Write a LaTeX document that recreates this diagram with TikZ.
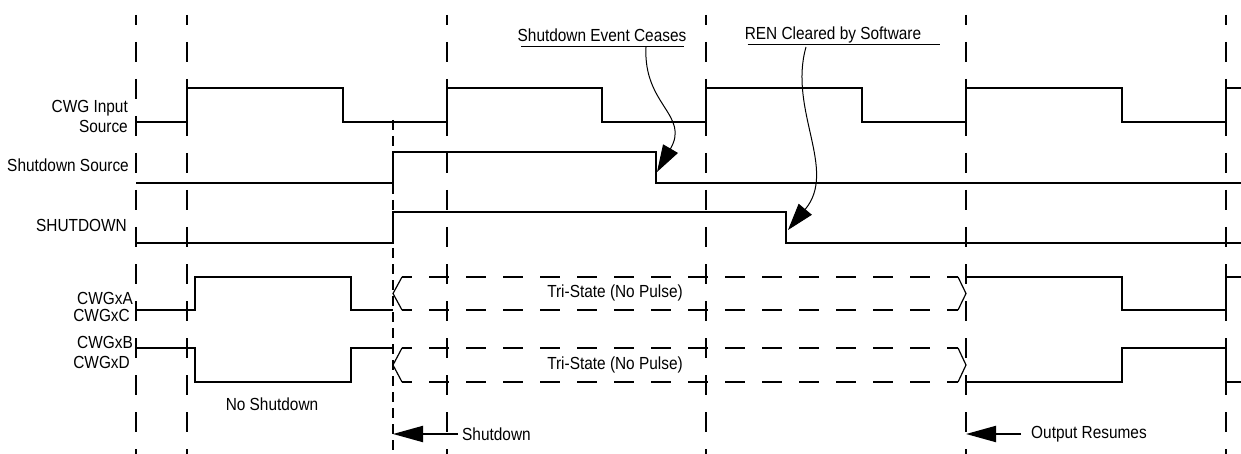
\documentclass[tikz,border=0pt]{standalone}
\usepackage{fontspec}
\usepackage{tikz}
\usetikzlibrary{arrows.meta,positioning,calc}
\newfontfamily\sigfont{Liberation Sans}[FakeStretch=0.88]
\definecolor{inkCol}{RGB}{0,0,0}
\tikzset{
  wave/.style={draw=inkCol,line width=2pt,line join=miter},
  gridline/.style={draw=inkCol,line width=2pt,dash pattern=on 20pt off 17pt,dash phase=10pt},
  sdline/.style={draw=inkCol,line width=1.5pt,dash pattern=on 10pt off 6pt},
  tri/.style={wave,dash pattern=on 20pt off 17pt,dash phase=10pt},
  kink/.style={draw=inkCol,line width=1.2pt},
  lbl/.style={font=\sigfont\fontsize{17.5}{20}\selectfont,inner sep=0pt,text=inkCol},
  note/.style={draw=inkCol,line width=1pt,-{Triangle[length=27pt,width=17pt]}},
  pointer/.style={draw=inkCol,line width=2pt,-{Triangle[length=30pt,width=16pt]}},
}

\begin{document}
\begin{tikzpicture}[x=1pt,y=-1pt]
    \useasboundingbox (0,0) rectangle (1241,454);
    \foreach \gx in {136,187,447,706,966,1226}
      \draw[gridline] (\gx,15) -- (\gx,454);
    \draw[sdline] (393,120) -- (393,454);

    \node[lbl,align=right,anchor=east] (inSrc) at (128,116) {CWG Input\\Source};
    \node[lbl,anchor=east] (sdSrc) at (129,165) {Shutdown Source};
    \node[lbl,anchor=east] (sdSig) at (127,225) {SHUTDOWN};
    \node[lbl,anchor=east] (outA) at (133,298) {CWGxA};
    \node[lbl,anchor=east] (outC) at (130,315) {CWGxC};
    \node[lbl,anchor=east] (outB) at (133,342) {CWGxB};
    \node[lbl,anchor=east] (outD) at (130,362) {CWGxD};

    \draw[wave] (136,122) -- (187,122) -- (187,88) -- (343,88) -- (343,122)
      -- (447,122) -- (447,88) -- (602,88) -- (602,122) -- (706,122)
      -- (706,88) -- (862,88) -- (862,122) -- (966,122) -- (966,88)
      -- (1122,88) -- (1122,122) -- (1226,122) -- (1226,88) -- (1241,88);
    \draw[wave] (136,183) -- (393,183) -- (393,152) -- (656,152) -- (656,183) -- (1241,183);
    \draw[wave] (136,243) -- (393,243) -- (393,212) -- (786,212) -- (786,243) -- (1241,243);

    \draw[wave] (136,310) -- (195,310) -- (195,277) -- (351,277) -- (351,310) -- (393,310);
    \draw[wave] (966,277) -- (1122,277) -- (1122,310) -- (1226,310) -- (1226,277) -- (1241,277);
    \draw[wave] (136,348) -- (195,348) -- (195,382) -- (351,382) -- (351,348) -- (393,348);
    \draw[wave] (966,382) -- (1122,382) -- (1122,348) -- (1226,348) -- (1226,382) -- (1241,382);
    \foreach \hi/\lo in {277/310,348/382}{
      \draw[tri] (402,\hi) -- (958,\hi);
      \draw[tri] (402,\lo) -- (958,\lo);
      \draw[kink] (402,\hi) -- (393,{(\hi+\lo)/2}) -- (402,\lo);
      \draw[kink] (958,\hi) -- (966,{(\hi+\lo)/2}) -- (958,\lo);
    }
    \node[lbl] (triAC) at (615,293) {Tri-State (No Pulse)};
    \node[lbl] (triBD) at (615,365) {Tri-State (No Pulse)};
    \node[lbl] (noSd) at (272,404) {No Shutdown};

    \node[lbl] (ceases) at (602,35) {Shutdown Event Ceases};
    \node[lbl] (renClr) at (833,35) {REN Cleared by Software};
    \draw[line width=1.5pt] ($(ceases.base west)+(4,5)$) -- ($(ceases.base east)+(-3,5)$);
    \draw[line width=1.5pt] ($(renClr.base west)+(3,5)$) -- ($(renClr.base east)+(19,5)$);
    \coordinate (ceasesTap) at (646,47);
    \coordinate (srcFall) at (657,172);
    \coordinate (renTap) at (806,47);
    \coordinate (sdFall) at (788,230);
    \draw[note] (ceasesTap) .. controls (643,105) and (690,115) .. (srcFall);
    \draw[note] (renTap) .. controls (788,110) and (838,170) .. (sdFall);

    \node[lbl,anchor=west] (sdTxt) at (462,434) {Shutdown};
    \coordinate (sdEdge) at (393,434);
    \draw[pointer] ([xshift=-4pt]sdTxt.west) -- (sdEdge);
    \node[lbl,anchor=west] (resTxt) at (1031,434) {Output Resumes};
    \coordinate (resEdge) at (966,434);
    \draw[pointer] ([xshift=-10pt]resTxt.west) -- (resEdge);
  \end{tikzpicture}
\end{document}
